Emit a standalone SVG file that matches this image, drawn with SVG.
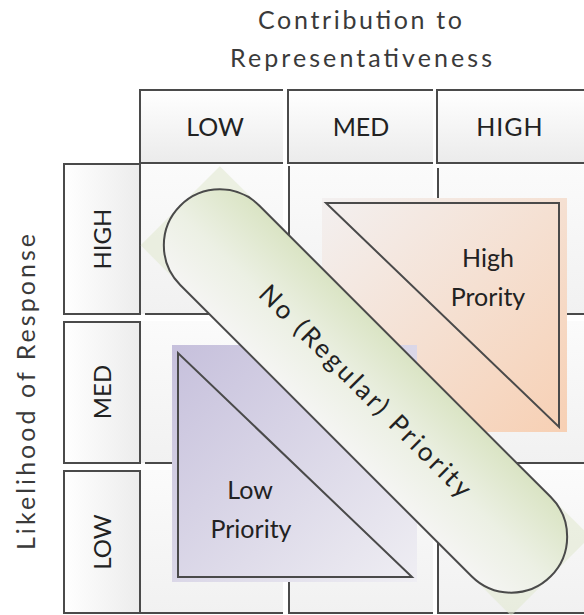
<svg xmlns="http://www.w3.org/2000/svg" width="584" height="615" viewBox="0 0 584 615">
<defs>
<linearGradient id="gHead" x1="0" y1="0" x2="0" y2="1"><stop offset="0" stop-color="#ffffff"/><stop offset="1" stop-color="#ebebeb"/></linearGradient>
<linearGradient id="gRow" x1="0" y1="0" x2="1" y2="0"><stop offset="0" stop-color="#ffffff"/><stop offset="1" stop-color="#ececec"/></linearGradient>
<linearGradient id="gCell" x1="0" y1="0" x2="0" y2="1"><stop offset="0" stop-color="#fbfbfb"/><stop offset="1" stop-color="#f1f1f1"/></linearGradient>
<linearGradient id="gPink" x1="0" y1="0" x2="1" y2="1"><stop offset="0" stop-color="#f3f0f0"/><stop offset="1" stop-color="#f7d0b4"/></linearGradient>
<linearGradient id="gPurple" x1="0" y1="0" x2="1" y2="1"><stop offset="0" stop-color="#c6c0dc"/><stop offset="1" stop-color="#efeef3"/></linearGradient>
<linearGradient id="gPill" x1="0" y1="0" x2="0" y2="1"><stop offset="0" stop-color="#dae4c4"/><stop offset="0.55" stop-color="#ecf0e4"/><stop offset="1" stop-color="#f5f5f3"/></linearGradient>
</defs>
<style>
.ln{fill:none;stroke:#4a4a4a;stroke-width:2}
.t{font-family:Lato,"Open Sans","Liberation Sans",sans-serif;text-anchor:middle;fill:#222}
.ttl{font-family:Lato,"Open Sans","Liberation Sans",sans-serif;text-anchor:middle;fill:#3a3a3a;font-size:25px}
.h{font-size:25px}
.p{font-size:25px}
</style>
<text class="ttl" x="360" y="29" textLength="204" lengthAdjust="spacing">Contribution to</text>
<text class="ttl" x="361" y="67" textLength="262" lengthAdjust="spacing">Representativeness</text>
<text class="ttl" transform="translate(35,392) rotate(-90)" textLength="316" lengthAdjust="spacing">Likelihood of Response</text>

<g id="col-low"><rect x="140" y="90" width="143" height="73" fill="url(#gHead)"/><path class="ln" d="M283,90 H140 V163 H283"/><text class="t h" x="215" y="136">LOW</text></g>
<g id="col-med"><rect x="288" y="90" width="145" height="73" fill="url(#gHead)"/><path class="ln" d="M433,90 H288 V163 H433"/><text class="t h" x="361" y="136">MED</text></g>
<g id="col-high"><rect x="437" y="90" width="148" height="73" fill="url(#gHead)"/><path class="ln" d="M585,90 H437 V163 H585"/><text class="t h" x="510" y="136" letter-spacing="1">HIGH</text></g>

<g id="row-high"><rect class="ln" x="64" y="164" width="76" height="150" style="fill:url(#gRow)"/><text class="t" font-size="24" transform="translate(111,239) rotate(-90)">HIGH</text></g>
<g id="row-med"><rect class="ln" x="64" y="322" width="76" height="141" style="fill:url(#gRow)"/><text class="t" font-size="24" transform="translate(111,392) rotate(-90)">MED</text></g>
<g id="row-low"><rect class="ln" x="64" y="471" width="76" height="142" style="fill:url(#gRow)"/><text class="t" font-size="24" transform="translate(111,542) rotate(-90)">LOW</text></g>

<g id="cells">
<rect x="141" y="165" width="142" height="149" fill="url(#gCell)"/>
<rect x="290" y="165" width="143" height="149" fill="url(#gCell)"/>
<rect x="439" y="165" width="146" height="149" fill="url(#gCell)"/>
<rect x="141" y="321" width="142" height="142" fill="url(#gCell)"/>
<rect x="290" y="321" width="143" height="142" fill="url(#gCell)"/>
<rect x="439" y="321" width="146" height="142" fill="url(#gCell)"/>
<rect x="141" y="470" width="142" height="143" fill="url(#gCell)"/>
<rect x="290" y="470" width="143" height="143" fill="url(#gCell)"/>
<rect x="439" y="470" width="146" height="143" fill="url(#gCell)"/>
<path class="ln" d="M145,314 H283 M289,166 V314 H433 M438,168 V314 H585"/>
<path class="ln" d="M145,463 H283 M289,321 V463 H433 M438,321 V463 H585"/>
<path class="ln" d="M140,613 H283 M289,470 V613 H433 M438,470 V613 H585"/>
</g>

<g id="high-priority">
<rect x="322" y="198" width="245" height="234" fill="url(#gPink)"/>
<polygon class="ln" points="326,203 559,203 559,427"/>
<text class="t p" x="488" y="267">High</text>
<text class="t p" x="488" y="306">Prority</text>
</g>

<g id="low-priority">
<rect x="172" y="345" width="245" height="237" fill="url(#gPurple)"/>
<polygon class="ln" points="178,353 178,577 412,577"/>
<text class="t p" x="250" y="499">Low</text>
<text class="t p" x="251" y="538">Priority</text>
</g>

<g id="regular-priority" transform="translate(365.5,391) rotate(45)">
<rect x="-262" y="-56" width="524" height="112" fill="#e2e9d2" opacity="0.6"/>
<rect class="ln" x="-262" y="-56" width="524" height="112" rx="56" style="fill:url(#gPill)"/>
<text class="t" x="0" y="9" font-size="26" textLength="288" lengthAdjust="spacing">No (Regular) Priority</text>
</g>
</svg>
